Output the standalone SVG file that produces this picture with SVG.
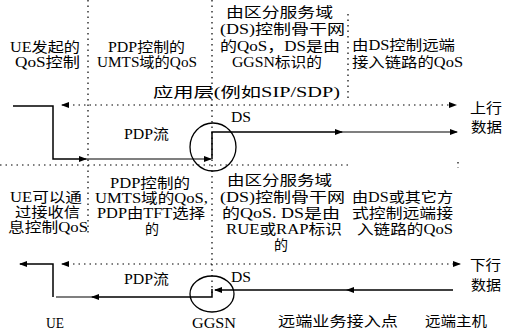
<svg xmlns="http://www.w3.org/2000/svg" width="514" height="335" viewBox="0 0 514 335">
<defs>
<marker id="arr" markerWidth="8" markerHeight="6" refX="7" refY="3" orient="auto-start-reverse" markerUnits="userSpaceOnUse">
<path d="M0,0 L8,3 L0,6 Z" fill="#000"/>
</marker>
</defs>
<style>
text{font-family:"Liberation Serif","Noto Sans CJK SC",serif;font-size:14px;fill:#000}
.m{text-anchor:middle}
.sol{fill:none;stroke:#000;stroke-width:1.5}
.thin{fill:none;stroke:#000;stroke-width:1.1}
.dot{fill:none;stroke:#000;stroke-width:1.2;stroke-dasharray:1.5 4}
.ell{fill:none;stroke:#000;stroke-width:1.3}
</style>
<rect width="514" height="335" fill="#fff"/>

<g id="grid">
<path class="dot" d="M88,0 V236"/>
<path class="dot" d="M212,0 V296"/>
<path class="dot" d="M348,14 V100"/>
<path class="dot" d="M0,165 H352"/>
<path class="dot" d="M458,162 V168"/>
</g>

<g id="connectors">
<path class="dot" d="M62,105 H456" marker-start="url(#arr)" marker-end="url(#arr)"/>
<path class="sol" d="M13,106 H53 V159 H86" marker-end="url(#arr)"/>
<path class="thin" d="M86,159 H211" marker-end="url(#arr)"/>
<path class="sol" d="M212,159 V132 H342" marker-end="url(#arr)"/>
<path class="thin" d="M342,132 H457" marker-end="url(#arr)"/>
<path class="dot" d="M62,264 H460" marker-start="url(#arr)" marker-end="url(#arr)"/>
<path class="sol" d="M53,297 V264 H20" marker-end="url(#arr)"/>
<path class="sol" d="M212,289 V297 H92" marker-end="url(#arr)"/>
<path class="thin" d="M92,297 H56"/>
<path class="sol" d="M453,290 H347" marker-end="url(#arr)"/>
<path class="sol" d="M347,290 H215" marker-end="url(#arr)"/>
</g>

<g id="ggsn-up"><ellipse class="ell" cx="213" cy="147" rx="23" ry="24"/></g>
<g id="ggsn-down"><ellipse class="ell" cx="212" cy="294" rx="22" ry="18"/></g>

<g id="ue-up">
<text x="10" y="52" textLength="70" lengthAdjust="spacingAndGlyphs">UE发起的</text>
<text x="15" y="67" textLength="65" lengthAdjust="spacingAndGlyphs">QoS控制</text>
</g>
<g id="pdp-up">
<text x="108" y="52" textLength="77" lengthAdjust="spacingAndGlyphs">PDP控制的</text>
<text x="97" y="67" textLength="100" lengthAdjust="spacingAndGlyphs">UMTS域的QoS</text>
</g>
<g id="ds-up">
<text x="226" y="17" textLength="107" lengthAdjust="spacingAndGlyphs">由区分服务域</text>
<text x="220" y="34" textLength="125" lengthAdjust="spacingAndGlyphs">(DS)控制骨干网</text>
<text x="220" y="51" textLength="120" lengthAdjust="spacingAndGlyphs">的QoS，DS是由</text>
<text x="232" y="67" textLength="90" lengthAdjust="spacingAndGlyphs">GGSN标识的</text>
</g>
<g id="remote-up">
<text x="352" y="50" textLength="103" lengthAdjust="spacingAndGlyphs">由DS控制远端</text>
<text x="352" y="67" textLength="111" lengthAdjust="spacingAndGlyphs">接入链路的QoS</text>
</g>
<g id="app-layer">
<text x="153" y="97" textLength="187" lengthAdjust="spacingAndGlyphs">应用层(例如SIP/SDP)</text>
</g>
<g id="up-labels">
<text x="231" y="122" textLength="20" lengthAdjust="spacingAndGlyphs">DS</text>
<text x="124" y="139" textLength="45" lengthAdjust="spacingAndGlyphs">PDP流</text>
<text x="470" y="113" textLength="32" lengthAdjust="spacingAndGlyphs">上行</text>
<text x="471" y="132" textLength="31" lengthAdjust="spacingAndGlyphs">数据</text>
</g>

<g id="ue-down">
<text x="10" y="202" textLength="72" lengthAdjust="spacingAndGlyphs">UE可以通</text>
<text x="15" y="217" textLength="65" lengthAdjust="spacingAndGlyphs">过接收信</text>
<text x="8" y="232" textLength="80" lengthAdjust="spacingAndGlyphs">息控制QoS</text>
</g>
<g id="pdp-down">
<text x="110" y="188" textLength="80" lengthAdjust="spacingAndGlyphs">PDP控制的</text>
<text x="95" y="203" textLength="113" lengthAdjust="spacingAndGlyphs">UMTS域的QoS,</text>
<text x="97" y="218" textLength="108" lengthAdjust="spacingAndGlyphs">PDP由TFT选择</text>
<text x="152" y="234" class="m">的</text>
</g>
<g id="ds-down">
<text x="227" y="185" textLength="105" lengthAdjust="spacingAndGlyphs">由区分服务域</text>
<text x="220" y="202" textLength="125" lengthAdjust="spacingAndGlyphs">(DS)控制骨干网</text>
<text x="222" y="218" textLength="118" lengthAdjust="spacingAndGlyphs">的QoS. DS是由</text>
<text x="226" y="234" textLength="116" lengthAdjust="spacingAndGlyphs">RUE或RAP标识</text>
<text x="281" y="250" class="m">的</text>
</g>
<g id="remote-down">
<text x="352" y="202" textLength="101" lengthAdjust="spacingAndGlyphs">由DS或其它方</text>
<text x="352" y="218" textLength="101" lengthAdjust="spacingAndGlyphs">式控制远端接</text>
<text x="357" y="234" textLength="96" lengthAdjust="spacingAndGlyphs">入链路的QoS</text>
</g>
<g id="down-labels">
<text x="231" y="282" textLength="20" lengthAdjust="spacingAndGlyphs">DS</text>
<text x="124" y="284" textLength="45" lengthAdjust="spacingAndGlyphs">PDP流</text>
<text x="470" y="270" textLength="31" lengthAdjust="spacingAndGlyphs">下行</text>
<text x="471" y="290" textLength="30" lengthAdjust="spacingAndGlyphs">数据</text>
</g>

<g id="ue"><text x="46" y="328" textLength="18" lengthAdjust="spacingAndGlyphs">UE</text></g>
<g id="ggsn"><text x="192" y="328" textLength="44" lengthAdjust="spacingAndGlyphs">GGSN</text></g>
<g id="rap"><text x="278" y="326" textLength="120" lengthAdjust="spacingAndGlyphs">远端业务接入点</text></g>
<g id="host"><text x="425" y="326" textLength="62" lengthAdjust="spacingAndGlyphs">远端主机</text></g>
</svg>
